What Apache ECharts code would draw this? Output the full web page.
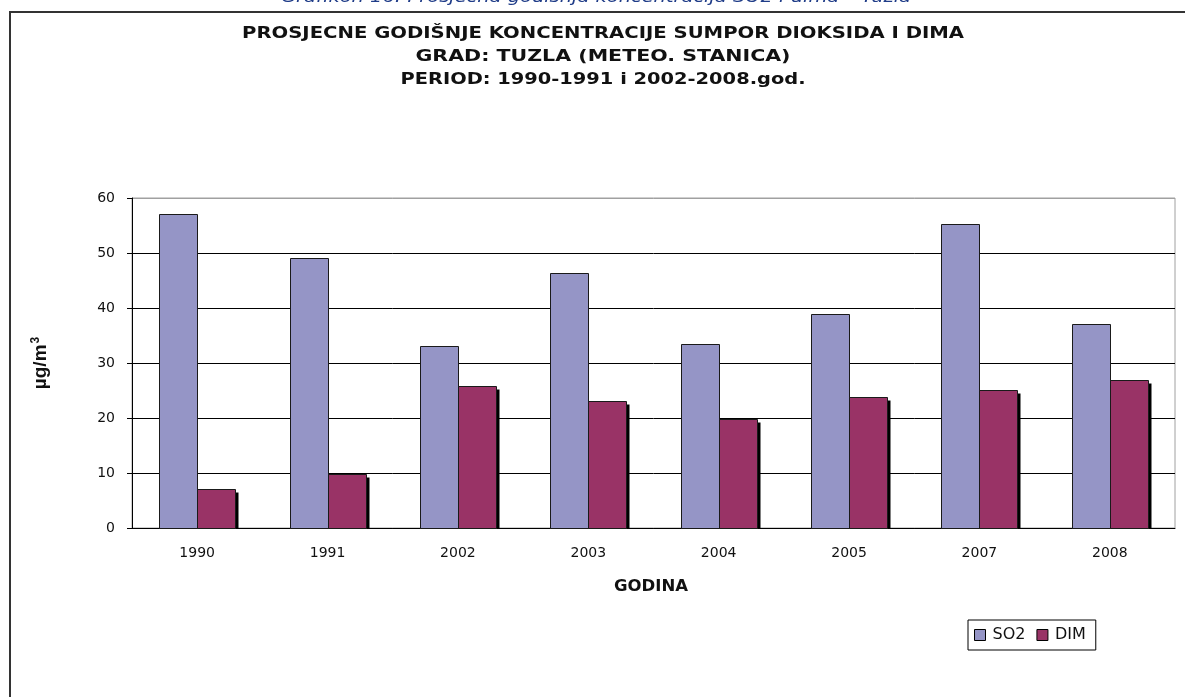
<!DOCTYPE html>
<html>
<head>
<meta charset="utf-8">
<script src="https://cdn.jsdelivr.net/npm/echarts@6/dist/echarts.min.js"></script>
<style>
  html, body { margin: 0; padding: 0; background: #fff; }
  #chart { width: 1185px; height: 697px; }
</style>
</head>
<body>
<div id="chart"></div>
<script>
// godine i srednje godisnje koncentracije (ug/m3)
const years = ['1990', '1991', '2002', '2003', '2004', '2005', '2007', '2008'];
const so2 = [57.1, 49.1, 33.1, 46.3, 33.4, 39.0, 55.2, 37.1];
const dim = [7.1, 9.9, 25.9, 23.1, 19.9, 23.8, 25.1, 27.0];
const seriesNames = ['SO2', 'DIM'];
const titleLines = [
  'PROSJECNE GODIŠNJE KONCENTRACIJE SUMPOR DIOKSIDA I DIMA',
  'GRAD: TUZLA (METEO. STANICA)',
  'PERIOD: 1990-1991 i 2002-2008.god.',
];
const caption = 'Grafikon 16: Prosječna godišnja koncentracija SO2 i dima – Tuzla';
const xName = 'GODINA';

const chart = echarts.init(document.getElementById('chart'));

// sirina teksta -> scaleX (slika je razvucena po sirini)
const measureCtx = document.createElement('canvas').getContext('2d');
function fitScale(text, font, target) {
  measureCtx.font = font;
  return target / measureCtx.measureText(text).width;
}

function stretchedText(text, font, x, y, width, fill) {
  return {
    type: 'text',
    x,
    y,
    scaleX: fitScale(text, font, width),
    silent: true,
    style: { text, font, fill, align: 'center', verticalAlign: 'middle' },
  };
}

const titleFont = 'bold 15px DejaVu Sans';
const titleWidths = [722, 375, 405];
const titleY = [34, 57, 80];

// stupac sa sjenkom (DIM ima crnu sjenku desno)
function barItem(side, color) {
  return (params, api) => {
    const idx = api.value(0);
    const top = api.coord([idx, api.value(1)]);
    const base = api.coord([idx, 0]);
    const band = api.size([1, 0])[0];
    const w = Math.round(band * 0.29);
    const x = (side === 0 ? Math.round(top[0]) - w : Math.round(top[0])) + 0.5;
    const y = Math.round(top[1]) + 0.5;
    const h = Math.round(base[1]) - Math.round(top[1]);
    const children = [];
    if (side === 1) {
      children.push({
        type: 'rect',
        shape: { x: x + w, y: y + 3, width: 3, height: h - 3 },
        style: { fill: '#000' },
      });
    }
    children.push({
      type: 'rect',
      shape: { x, y, width: w, height: h },
      style: { fill: color, stroke: '#1a1a1a', lineWidth: 1 },
    });
    return { type: 'group', children };
  };
}

chart.setOption({
  backgroundColor: '#fff',
  animation: false,
  textStyle: { fontFamily: 'DejaVu Sans, Liberation Sans, sans-serif' },
  graphic: [
    stretchedText(caption, 'italic 15px DejaVu Sans', 596, -2, 630, '#1f3c88'),
    {
      type: 'rect',
      shape: { x: 10, y: 12, width: 1200, height: 720 },
      style: { fill: 'none', stroke: '#333', lineWidth: 2 },
      silent: true,
    },
    ...titleLines.map((t, i) => stretchedText(t, titleFont, 603, titleY[i], titleWidths[i], '#111')),
    stretchedText(xName, 'bold 15px DejaVu Sans', 651, 587, 74, '#111'),
  ],
  legend: {
    data: seriesNames,
    left: 968,
    top: 620,
    orient: 'horizontal',
    padding: [7, 10, 7, 6],
    itemGap: 11,
    itemWidth: 11,
    itemHeight: 11,
    borderColor: '#000',
    borderWidth: 1,
    icon: 'rect',
    itemStyle: { borderColor: '#000', borderWidth: 1 },
    textStyle: { fontSize: 16, color: '#111', padding: [0, 0, 0, 2] },
  },
  grid: {
    left: 132,
    right: 10,
    top: 198,
    bottom: 169,
    show: true,
    borderColor: '#a0a0a0',
    borderWidth: 1,
    backgroundColor: 'transparent',
  },
  xAxis: {
    type: 'category',
    data: years,
    axisLine: { lineStyle: { color: '#000', width: 1 } },
    axisTick: { inside: true, length: 5, lineStyle: { color: '#000' } },
    axisLabel: { fontSize: 14, color: '#111', margin: 18 },
  },
  yAxis: {
    type: 'value',
    min: 0,
    max: 60,
    interval: 10,
    name: '{a|µg/m}{s|3}',
    nameLocation: 'middle',
    nameRotate: 90,
    nameGap: 80,
    nameTextStyle: {
      rich: {
        a: { fontSize: 19, fontWeight: 'bold', color: '#111', fontFamily: 'Liberation Sans' },
        s: { fontSize: 12, fontWeight: 'bold', color: '#111', fontFamily: 'Liberation Sans', verticalAlign: 'top', padding: [0, 0, 10, 1] },
      },
    },
    axisLine: { show: true, lineStyle: { color: '#000', width: 1 } },
    axisTick: { show: true, length: 5, lineStyle: { color: '#000' } },
    axisLabel: { fontSize: 14, color: '#111', margin: 17 },
    // gornja linija (60) je siva kao okvir
    splitLine: {
      lineStyle: {
        color: ['#000', '#000', '#000', '#000', '#000', '#000', '#a0a0a0'],
        width: 1,
      },
    },
  },
  series: [
    {
      name: seriesNames[0],
      type: 'custom',
      renderItem: barItem(0, '#9595c6'),
      itemStyle: { color: '#9595c6' },
      encode: { x: 0, y: 1 },
      data: so2.map((v, i) => [i, v]),
    },
    {
      name: seriesNames[1],
      type: 'custom',
      renderItem: barItem(1, '#993366'),
      itemStyle: { color: '#993366' },
      encode: { x: 0, y: 1 },
      data: dim.map((v, i) => [i, v]),
    },
  ],
});
</script>
</body>
</html>
